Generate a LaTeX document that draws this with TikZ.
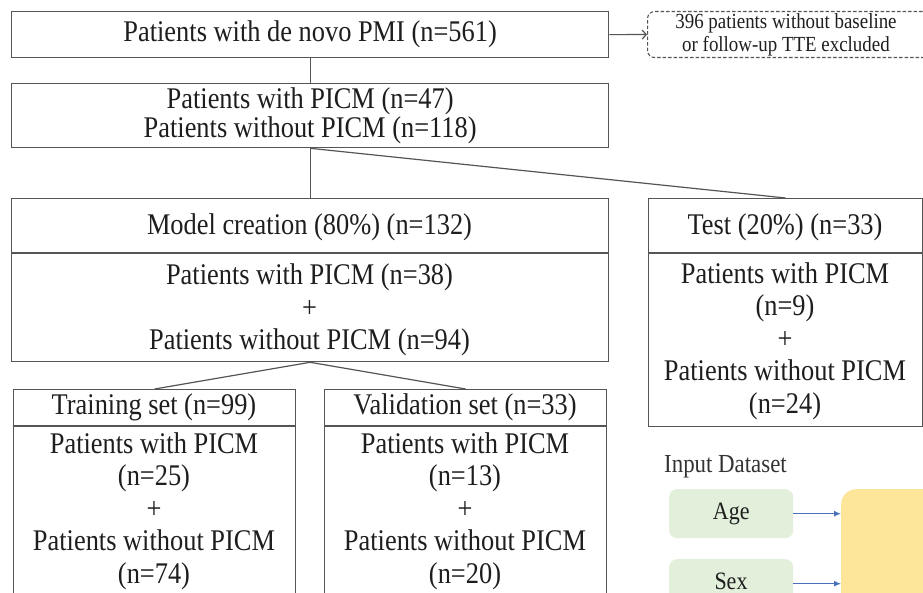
\documentclass[tikz,border=0pt]{standalone}
\usepackage{fontspec}
\setmainfont[FakeStretch=0.88]{Liberation Serif}
\usetikzlibrary{arrows.meta}
\definecolor{linec}{HTML}{555555}
\definecolor{txtc}{HTML}{1E1E1E}
\definecolor{greenf}{HTML}{E2EFDA}
\definecolor{yellowf}{HTML}{FDE59A}
\definecolor{bluea}{HTML}{4A72B8}
\definecolor{grayt}{HTML}{333333}
\begin{document}
\begin{tikzpicture}[x=1pt,y=-1pt,
  box/.style={draw=linec, line width=1.3pt, rectangle, inner sep=0pt, anchor=north west},
  txt/.style={text=txtc, font=\fontsize{30}{32.5}\selectfont, align=center, inner sep=0pt},
  smalltxt/.style={text=txtc, font=\fontsize{21.5}{22.5}\selectfont, align=center, inner sep=0pt},
  conn/.style={draw=linec, line width=1.2pt},
  greenbox/.style={fill=greenf, rounded corners=8pt, inner sep=0pt, anchor=north west,
    minimum width=124pt, minimum height=49pt},
  greentxt/.style={text=txtc, font=\fontsize{25}{26}\selectfont, inner sep=0pt},
  bluearrow/.style={draw=bluea, line width=1.2pt, -{Latex[length=7pt,width=6pt]}}]
\clip (0,0) rectangle (923,593);
\fill[white] (0,0) rectangle (923,593);
% top box
\node[box, txt, minimum width=597pt, minimum height=46pt] (b1) at (11,11) {Patients with de novo PMI (n=561)};
% exclusion box
\node[draw=linec, line width=1.1pt, dash pattern=on 3.5pt off 2pt, rounded corners=7pt, inner sep=0pt,
  minimum width=293pt, minimum height=46pt, anchor=north west] (ex) at (647,11) {};
\node[smalltxt] (ext) at (786,35) {396 patients without baseline\\or follow-up TTE excluded};
\draw[conn, -{Straight Barb[length=4pt,width=9pt]}] (b1.east) -- (ex.west);
% second box
\node[box, txt, minimum width=597pt, minimum height=64pt, font=\fontsize{30}{29}\selectfont] (b2) at (11,83) {Patients with PICM (n=47)\\Patients without PICM (n=118)};
\draw[conn] (b1.south) -- (b2.north);
% model creation box
\node[box, minimum width=597pt, minimum height=163pt] (b3) at (11,198) {};
\draw[conn] (b3.west |- 0,253) -- (b3.east |- 0,253);
\node[txt] (h3) at (309.5,227) {Model creation (80\%) (n=132)};
\node[txt] (c3) at (309.5,310) {Patients with PICM (n=38)\\+\\Patients without PICM (n=94)};
% test box
\node[box, minimum width=274pt, minimum height=228pt] (test) at (648,198) {};
\draw[conn] (test.west |- 0,253) -- (test.east |- 0,253);
\node[txt] (ht) at (785,227) {Test (20\%) (n=33)};
\node[txt] (ct) at (785,341) {Patients with PICM\\(n=9)\\+\\Patients without PICM\\(n=24)};
\draw[conn] (b2.south) -- (b3.north);
\draw[conn] (b2.south) -- (test.north);
% training box
\node[box, minimum width=282pt, minimum height=240pt] (train) at (13,389) {};
\draw[conn] (train.west |- 0,426) -- (train.east |- 0,426);
\node[txt] (htr) at (154,407) {Training set (n=99)};
\node[txt] (ctr) at (154,511) {Patients with PICM\\(n=25)\\+\\Patients without PICM\\(n=74)};
% validation box
\node[box, minimum width=282pt, minimum height=240pt] (valid) at (324,389) {};
\draw[conn] (valid.west |- 0,426) -- (valid.east |- 0,426);
\node[txt] (hva) at (465,407) {Validation set (n=33)};
\node[txt] (cva) at (465,511) {Patients with PICM\\(n=13)\\+\\Patients without PICM\\(n=20)};
\draw[conn] (b3.south) -- (train.north);
\draw[conn] (b3.south) -- (valid.north);
% input dataset
\node[text=grayt, font=\fontsize{26}{27}\selectfont, anchor=west, inner sep=0pt] (inp) at (664,467) {Input Dataset};
\node[greenbox] (age) at (669,489) {};
\node[greentxt] (aget) at (age.center) {Age};
\node[greenbox] (sex) at (669,559) {};
\node[greentxt, anchor=base] (sext) at (731,589) {Sex};
\node[fill=yellowf, rounded corners=15pt, inner sep=0pt, anchor=north west,
  minimum width=130pt, minimum height=160pt] (yel) at (841,489) {};
\draw[bluearrow] (age.east) -- (age.east -| yel.west);
\draw[bluearrow] (sex.east) -- (sex.east -| yel.west);
\end{tikzpicture}
\end{document}
